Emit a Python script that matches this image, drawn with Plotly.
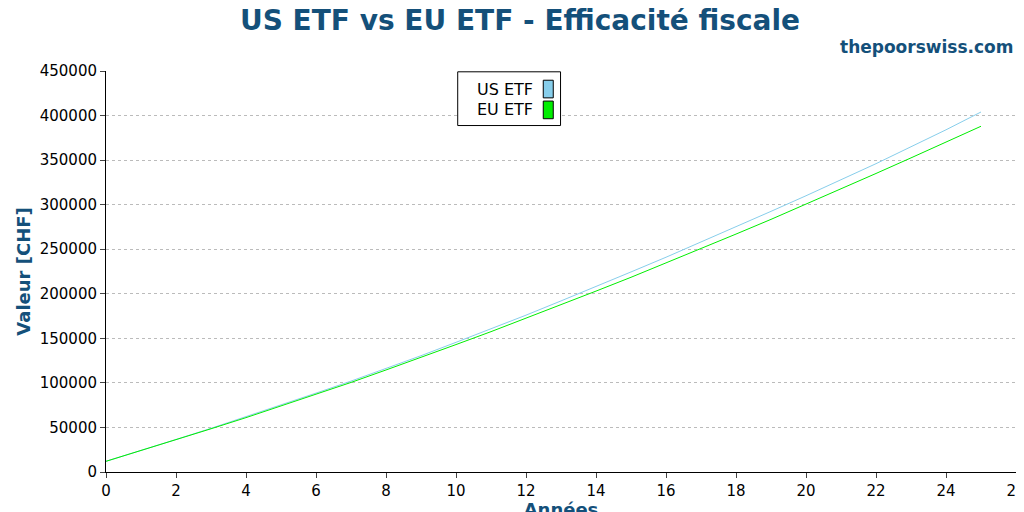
import plotly.graph_objects as go

years = list(range(26))
us_etf = [12000,24000,36500,49000,62000,75000,88500,102000,116000,130500,145500,160500,176000,192000,208000,224500,241000,258000,275000,292500,310000,328000,346000,365000,384000,404000]
eu_etf = [12000,24000,36000,48500,61000,74000,87000,100500,114500,128500,143000,157500,172500,187500,203000,218500,234500,250500,267000,283500,300500,317500,335000,352500,370000,388000]
names = ["US ETF", "EU ETF"]
colors = ["#87ceeb", "#00ee00"]
navy = "#14507a"

fig = go.Figure()
for n, y, c in zip(names, [us_etf, eu_etf], colors):
    fig.add_trace(go.Scatter(x=years, y=y, name=n, mode="lines", line=dict(color=c, width=1)))

fig.update_layout(
    width=1024, height=512, plot_bgcolor="white", paper_bgcolor="white",
    margin=dict(l=98, r=16, t=63, b=48, autoexpand=False), showlegend=False,
    font=dict(family="DejaVu Sans", size=15, color="black"),
    title=dict(text="<b>US ETF vs EU ETF - Efficacité fiscale</b>", x=0.5, xanchor="center",
               y=0.995, yanchor="top", font=dict(size=28, color=navy)),
    xaxis=dict(range=[0, 26], dtick=2, showgrid=False, zeroline=False, showline=True,
               linecolor="black", ticks="outside", ticklen=5, automargin=False,
               title=dict(text="<b>Années</b>", font=dict(size=18, color=navy), standoff=2)),
    yaxis=dict(range=[0, 450000], dtick=50000, showgrid=True, gridcolor="#bbbbbb", griddash="dot",
               zeroline=False, showline=True, linecolor="black", ticks="outside", ticklen=5,
               tickformat="d", automargin=False,
               title=dict(text="<b>Valeur [CHF]</b>", font=dict(size=18, color=navy), standoff=4)),
)
fig.add_annotation(text="<b>thepoorswiss.com</b>", xref="paper", yref="paper", x=1.0, y=1.0,
                   xanchor="right", yanchor="bottom", yshift=12, showarrow=False,
                   font=dict(size=17, color=navy))
# custom legend
fig.add_shape(type="rect", xref="paper", yref="paper", x0=0.3865, x1=0.4995, y0=0.864, y1=0.998,
              line=dict(color="black", width=1), fillcolor="white")
for i, (n, c) in enumerate(zip(names, colors)):
    yc = 0.955 - i * 0.052
    fig.add_annotation(text=n, xref="paper", yref="paper", x=0.4715, y=yc, xanchor="right",
                       yanchor="middle", showarrow=False, font=dict(size=16))
    fig.add_shape(type="rect", xref="paper", yref="paper", x0=0.4805, x1=0.4915,
                  y0=yc - 0.022, y1=yc + 0.022, line=dict(color="black", width=1), fillcolor=c)
fig.write_html("out.html")
